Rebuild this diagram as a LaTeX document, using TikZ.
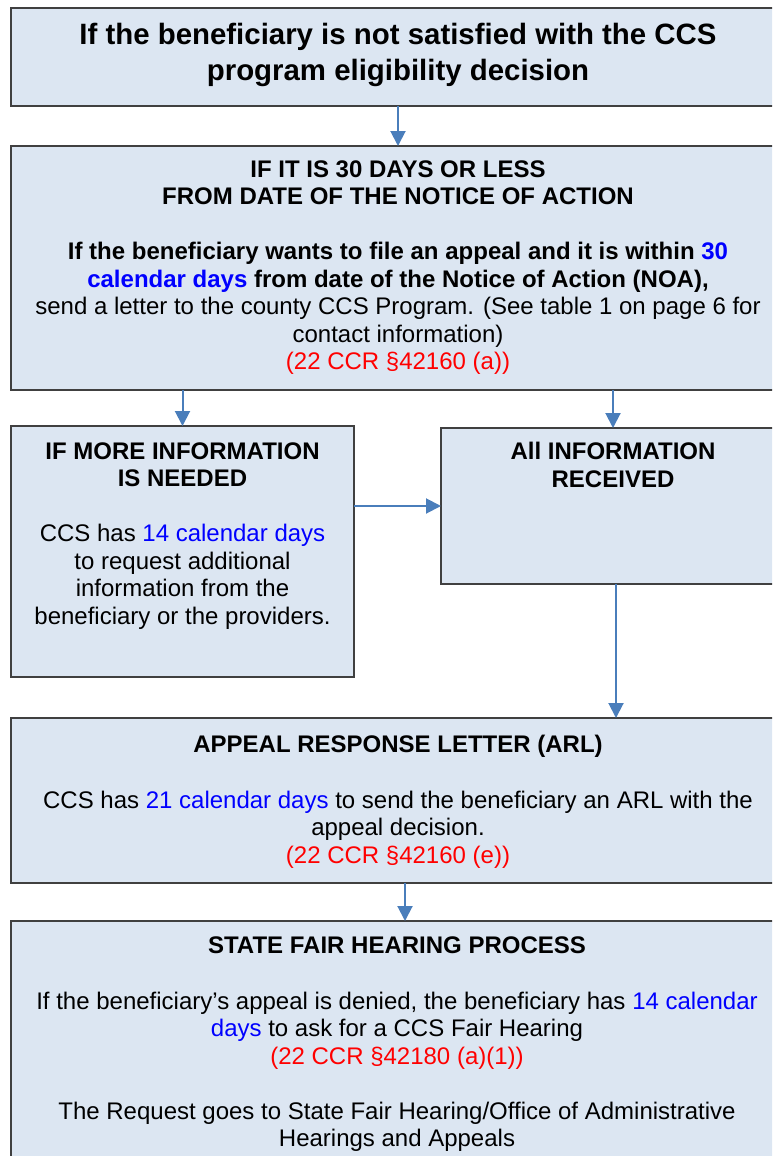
\documentclass[tikz,border=0pt]{standalone}
\usepackage{fontspec}
\setmainfont{Liberation Sans}
\usetikzlibrary{arrows.meta}
\definecolor{boxfill}{HTML}{DCE6F2}
\definecolor{boxline}{HTML}{404040}
\definecolor{arrowblue}{HTML}{4A7EBB}
\definecolor{linkblue}{HTML}{0000FF}
\definecolor{refred}{HTML}{FF0000}
\newcommand{\lb}[1]{\textcolor{linkblue}{#1}}
\newcommand{\rd}[1]{\textcolor{refred}{#1}}
\begin{document}
\begin{tikzpicture}[x=1pt,y=-1pt,
  box/.style={draw=boxline, line width=1.3pt, fill=boxfill, rectangle, inner sep=0pt, outer sep=0pt},
  ln/.style={anchor=base, inner sep=0pt, outer sep=0pt, font=\fontsize{24}{27.5}\selectfont},
  hd/.style={ln, font=\fontsize{24}{27.5}\selectfont\bfseries},
  ttl/.style={ln, font=\fontsize{29.4}{36}\selectfont\bfseries},
  arr/.style={draw=arrowblue, line width=2pt, -{Triangle[length=15pt,width=15pt]}}]
\useasboundingbox (0,0) rectangle (772,1156);
\begin{scope}
\clip (0,0) rectangle (772,1156);
% boxes
\node[box, minimum width=774pt, minimum height=98pt] (b1) at (398,57) {};
\node[box, minimum width=774pt, minimum height=244pt] (b2) at (398,268) {};
\node[box, minimum width=343pt, minimum height=251pt] (lbox) at (182.5,551.5) {};
\node[box, minimum width=344pt, minimum height=156pt] (rbox) at (613,506) {};
\node[box, minimum width=774pt, minimum height=165pt] (arl) at (398,800.5) {};
\node[box, minimum width=774pt, minimum height=249pt] (last) at (398,1045.5) {};
% arrows
\draw[arr] (b1.south) -- (b2.north);
\draw[arr] (b2.south -| lbox.north) -- (lbox.north);
\draw[arr] (b2.south -| rbox.north) -- (rbox.north);
\draw[arr] (rbox.west -| lbox.east) -- (rbox.west);
\draw[arr] ([xshift=3pt]rbox.south) -- ([xshift=3pt]rbox.south |- arl.north);
\draw[arr] ([xshift=7pt]arl.south) -- ([xshift=7pt]arl.south |- last.north);
\end{scope}
% box 1 text
\node[ttl] (t1a) at (398,45) {If the beneficiary is not satisfied with the CCS};
\node[ttl] (t1b) at (398,81) {program eligibility decision};
% box 2 text
\node[hd] (t2a) at (398,177) {IF IT IS 30 DAYS OR LESS};
\node[hd] (t2b) at (398,204.5) {FROM DATE OF THE NOTICE OF ACTION};
\node[hd] (t2c) at (398,259.5) {If the beneficiary wants to file an appeal and it is within \lb{30}};
\node[hd] (t2d) at (398,287) {\lb{calendar days} from date of the Notice of Action (NOA),};
\node[ln] (t2e) at (398,314.5) {send a letter to the county CCS Program. (See table 1 on page 6 for};
\node[ln] (t2f) at (398,342) {contact information)};
\node[ln] (t2g) at (398,369.5) {\rd{(22 CCR §42160 (a))}};
% left box text
\node[hd] (t3a) at (182.5,459) {IF MORE INFORMATION};
\node[hd] (t3b) at (182.5,486.5) {IS NEEDED};
\node[ln] (t3c) at (182.5,541.5) {CCS has \lb{14 calendar days}};
\node[ln] (t3d) at (182.5,569) {to request additional};
\node[ln] (t3e) at (182.5,596.5) {information from the};
\node[ln] (t3f) at (182.5,624) {beneficiary or the providers.};
% right box text
\node[hd] (t4a) at (613,459.5) {All INFORMATION};
\node[hd] (t4b) at (613,487) {RECEIVED};
% ARL text
\node[hd] (t5a) at (398,752) {APPEAL RESPONSE LETTER (ARL)};
\node[ln] (t5b) at (398,808) {CCS has \lb{21 calendar days} to send the beneficiary an ARL with the};
\node[ln] (t5c) at (398,835.5) {appeal decision.};
\node[ln] (t5d) at (398,863) {\rd{(22 CCR §42160 (e))}};
% last box text
\node[hd] (t6a) at (397,953) {STATE FAIR HEARING PROCESS};
\node[ln] (t6b) at (397,1009) {If the beneficiary’s appeal is denied, the beneficiary has \lb{14 calendar}};
\node[ln] (t6c) at (397,1036.5) {\lb{days} to ask for a CCS Fair Hearing};
\node[ln] (t6d) at (397,1064) {\rd{(22 CCR §42180 (a)(1))}};
\node[ln] (t6e) at (397,1119) {The Request goes to State Fair Hearing/Office of Administrative};
\node[ln] (t6f) at (397,1146.5) {Hearings and Appeals};
\end{tikzpicture}
\end{document}
